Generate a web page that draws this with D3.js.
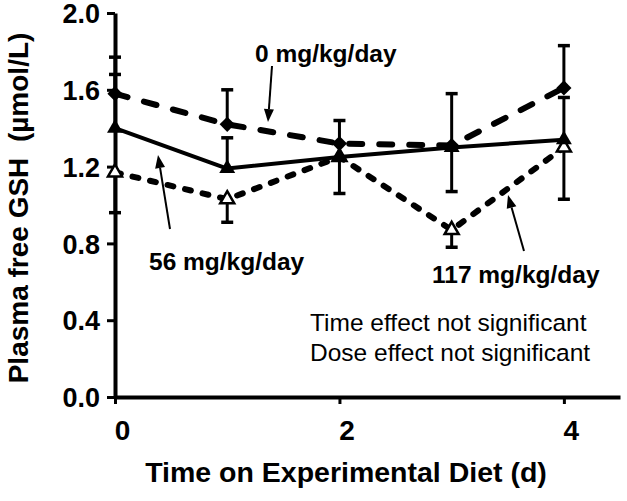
<!DOCTYPE html>
<html>
<head>
<meta charset="utf-8">
<script src="https://cdn.jsdelivr.net/npm/d3@7/dist/d3.min.js"></script>
<style>
  html, body { margin: 0; padding: 0; background: #fff; }
  svg { display: block; }
  text { font-family: "Liberation Sans", Arial, sans-serif; fill: #000; }
</style>
</head>
<body>
<svg id="chart" width="627" height="501"></svg>
<script>
// ---- data ----
const days = [0, 1, 2, 3, 4];
const dose0 = [1.58, 1.42, 1.32, 1.31, 1.61];
const dose0ErrUp = [0.10, 0.18, 0.00, 0.00, 0.22];
const dose0ErrDown = [0.00, 0.00, 0.00, 0.00, 0.00];
const dose56 = [1.40, 1.19, 1.25, 1.30, 1.34];
const dose56ErrUp = [0.37, 0.16, 0.19, 0.28, 0.22];
const dose56ErrDown = [0.00, 0.00, 0.19, 0.23, 0.31];
const dose117 = [1.17, 1.03, 1.25, 0.87, 1.30];
const dose117ErrUp = [0.00, 0.00, 0.00, 0.00, 0.00];
const dose117ErrDown = [0.21, 0.12, 0.00, 0.09, 0.00];
const yTicks = [0, 0.4, 0.8, 1.2, 1.6, 2.0];
const xTicks = [0, 2, 4];
const seriesLabels = ["0 mg/kg/day", "56 mg/kg/day", "117 mg/kg/day"];
const noteLines = ["Time effect not significant", "Dose effect not significant"];

const svg = d3.select("#chart");
const x = d3.scaleLinear().domain([0, 4.5]).range([115, 620]);
const y = d3.scaleLinear().domain([0, 2]).range([397, 13]);

// ---- axes ----
const yAxis = svg.append("g").attr("transform", `translate(${x(0)},0)`)
  .call(d3.axisLeft(y).tickValues(yTicks).tickFormat(d3.format(".1f")).tickSize(8).tickSizeOuter(0).tickPadding(7));
yAxis.select(".domain").attr("stroke", "#000").attr("stroke-width", 4);
yAxis.selectAll(".tick line").attr("stroke", "#000").attr("stroke-width", 3);
yAxis.selectAll(".tick text").attr("font-size", 27).attr("font-weight", "bold")
  .attr("font-family", "Liberation Sans, Arial, sans-serif").attr("fill", "#000").attr("dy", "0.36em");

const xAxis = svg.append("g").attr("transform", `translate(0,${y(0)})`)
  .call(d3.axisBottom(x).tickValues(xTicks).tickFormat(d3.format("d")).tickSize(7).tickSizeOuter(0).tickPadding(16));
xAxis.select(".domain").attr("stroke", "#000").attr("stroke-width", 4);
xAxis.selectAll(".tick line").attr("stroke", "#000").attr("stroke-width", 3);
xAxis.selectAll(".tick text").attr("font-size", 28).attr("font-weight", "bold")
  .attr("font-family", "Liberation Sans, Arial, sans-serif").attr("fill", "#000").attr("dx", 7);

// axis titles
svg.append("text")
  .attr("x", 346).attr("y", 482)
  .attr("text-anchor", "middle").attr("font-size", 28.5).attr("font-weight", "bold")
  .text("Time on Experimental Diet (d)");
svg.append("text")
  .attr("transform", "translate(28,208) rotate(-90)")
  .attr("text-anchor", "middle").attr("font-size", 28).attr("font-weight", "bold")
  .text("Plasma free GSH\u00A0 (\u00B5mol/L)");

// ---- series ----
const series = [
  { vals: dose117, up: dose117ErrUp, down: dose117ErrDown, dash: "6 12", width: 6, marker: "openTri" },
  { vals: dose0, up: dose0ErrUp, down: dose0ErrDown, dash: "13 17", width: 6, marker: "diamond" },
  { vals: dose56, up: dose56ErrUp, down: dose56ErrDown, dash: null, width: 4, marker: "tri" }
];

const line = d3.line().x((d, i) => x(days[i])).y(d => y(d));

// error bars
series.forEach(s => {
  const g = svg.append("g");
  s.vals.forEach((v, i) => {
    const cx = x(days[i]);
    [[s.up[i], 1], [s.down[i], -1]].forEach(([e, sign]) => {
      if (!e) return;
      const yy = y(v + sign * e);
      g.append("line").attr("x1", cx).attr("x2", cx).attr("y1", y(v)).attr("y2", yy)
        .attr("stroke", "#000").attr("stroke-width", 3);
      g.append("line").attr("x1", cx - 6).attr("x2", cx + 6)
        .attr("y1", yy).attr("y2", yy).attr("stroke", "#000").attr("stroke-width", 3.5);
    });
  });
});

// lines
series.forEach(s => {
  svg.append("path").datum(s.vals).attr("d", line)
    .attr("fill", "none").attr("stroke", "#000").attr("stroke-width", s.width)
    .attr("stroke-dasharray", s.dash)
    .attr("stroke-linecap", s.dash ? "round" : "butt")
    .attr("stroke-linejoin", "round");
});

// markers
series.forEach(s => {
  s.vals.forEach((v, i) => {
    const cx = x(days[i]), cy = y(v);
    if (s.marker === "diamond") {
      svg.append("path").attr("d", d3.symbol(d3.symbolSquare, 115)())
        .attr("transform", `translate(${cx},${cy}) rotate(45)`).attr("fill", "#000");
    } else if (s.marker === "tri") {
      svg.append("path").attr("d", d3.symbol(d3.symbolTriangle, 110)())
        .attr("transform", `translate(${cx},${cy})`).attr("fill", "#000");
    } else {
      svg.append("path").attr("d", d3.symbol(d3.symbolTriangle, 85)())
        .attr("transform", `translate(${cx},${cy})`).attr("fill", "#fff")
        .attr("stroke", "#000").attr("stroke-width", 2.5);
    }
  });
});

// ---- annotations ----
const ann = svg.append("g");
ann.append("text").attr("x", 255).attr("y", 62).attr("font-size", 24.5).attr("font-weight", "bold").text(seriesLabels[0]);
ann.append("text").attr("x", 149).attr("y", 270).attr("font-size", 24.5).attr("font-weight", "bold").text(seriesLabels[1]);
ann.append("text").attr("x", 432).attr("y", 283).attr("font-size", 24.5).attr("font-weight", "bold").text(seriesLabels[2]);

function arrow(x1, y1, x2, y2) {
  const ang = Math.atan2(y2 - y1, x2 - x1);
  const L = 13, W = 5;
  const bx = x2 - L * Math.cos(ang), by = y2 - L * Math.sin(ang);
  ann.append("line").attr("x1", x1).attr("y1", y1).attr("x2", bx).attr("y2", by)
    .attr("stroke", "#000").attr("stroke-width", 2);
  const px = -Math.sin(ang) * W, py = Math.cos(ang) * W;
  ann.append("path")
    .attr("d", `M${x2},${y2}L${bx + px},${by + py}L${bx - px},${by - py}Z`)
    .attr("fill", "#000");
}
arrow(272, 66, 268, 122);
arrow(170, 229, 158, 155);
arrow(524, 251, 508, 195);

noteLines.forEach((t, i) => {
  ann.append("text").attr("x", 310).attr("y", 331 + i * 30).attr("font-size", 24.5).text(t);
});
</script>
</body>
</html>
